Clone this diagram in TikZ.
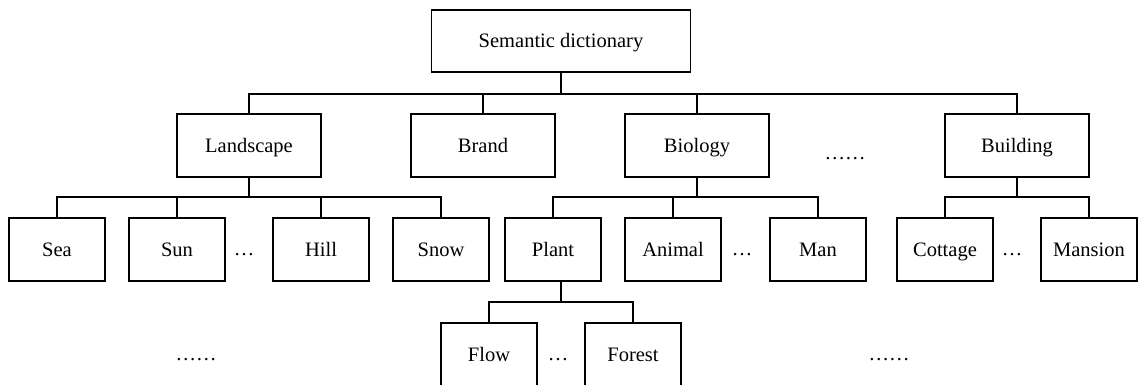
\documentclass[tikz,border=0pt]{standalone}
\usepackage{fontspec}
\setmainfont{Liberation Serif}
\tikzset{
  box/.style={draw, line width=1.8pt, inner sep=0pt, text height=13.5pt, text depth=0pt,
    minimum height=63pt, font=\fontsize{20.5pt}{24pt}\selectfont},
  rootbox/.style={box, minimum width=259pt, minimum height=62pt},
  midbox/.style={box, minimum width=144pt},
  leafbox/.style={box, minimum width=96pt},
  dots/.style={inner sep=0pt, anchor=base, font=\fontsize{20.5pt}{24pt}\selectfont},
  link/.style={line width=1.8pt, line join=miter}
}
\begin{document}
\begin{tikzpicture}[x=1pt, y=-1pt]
\useasboundingbox (0,0) rectangle (1144,385);
% level 1
\node[rootbox] (root) at (561,41) {Semantic dictionary};
% level 2
\node[midbox] (land) at (249,145.5) {Landscape};
\node[midbox] (brand) at (483,145.5) {Brand};
\node[midbox] (bio) at (697,145.5) {Biology};
\node[midbox] (build) at (1017,145.5) {Building};
\node[dots] (d2) at (845,160) {……};
% level 3
\node[leafbox] (sea) at (57,249.5) {Sea};
\node[leafbox] (sun) at (177,249.5) {Sun};
\node[dots] (d3a) at (244,255.5) {…};
\node[leafbox] (hill) at (321,249.5) {Hill};
\node[leafbox] (snow) at (441,249.5) {Snow};
\node[leafbox] (plant) at (553,249.5) {Plant};
\node[leafbox] (animal) at (673,249.5) {Animal};
\node[dots] (d3b) at (742,255.5) {…};
\node[leafbox] (man) at (818,249.5) {Man};
\node[leafbox] (cottage) at (945,249.5) {Cottage};
\node[dots] (d3c) at (1012,255.5) {…};
\node[leafbox] (mansion) at (1089,249.5) {Mansion};
% level 4
\node[leafbox, minimum height=64pt] (flow) at (489,355) {Flow};
\node[dots] (d4) at (558,360) {…};
\node[leafbox, minimum height=64pt] (forest) at (633,355) {Forest};
\node[dots] (d4l) at (196,360) {……};
\node[dots] (d4r) at (889,360) {……};
% buses
\coordinate (b1) at (0,94);
\coordinate (b2) at (0,197);
\coordinate (b3) at (0,302);
\coordinate (ps) at ([xshift=8pt]plant.south);
% connectors level 1 -> 2
\foreach \c in {land,brand,bio,build}
  \draw[link] (root.south) -- (root.south |- b1) -| (\c.north);
% Landscape children
\foreach \c in {sea,sun,hill,snow}
  \draw[link] (land.south) -- (land.south |- b2) -| (\c.north);
% Biology children
\foreach \c in {plant,animal,man}
  \draw[link] (bio.south) -- (bio.south |- b2) -| (\c.north);
% Building children
\foreach \c in {cottage,mansion}
  \draw[link] (build.south) -- (build.south |- b2) -| (\c.north);
% Plant children
\foreach \c in {flow,forest}
  \draw[link] (ps) -- (ps |- b3) -| (\c.north);
\end{tikzpicture}
\end{document}
